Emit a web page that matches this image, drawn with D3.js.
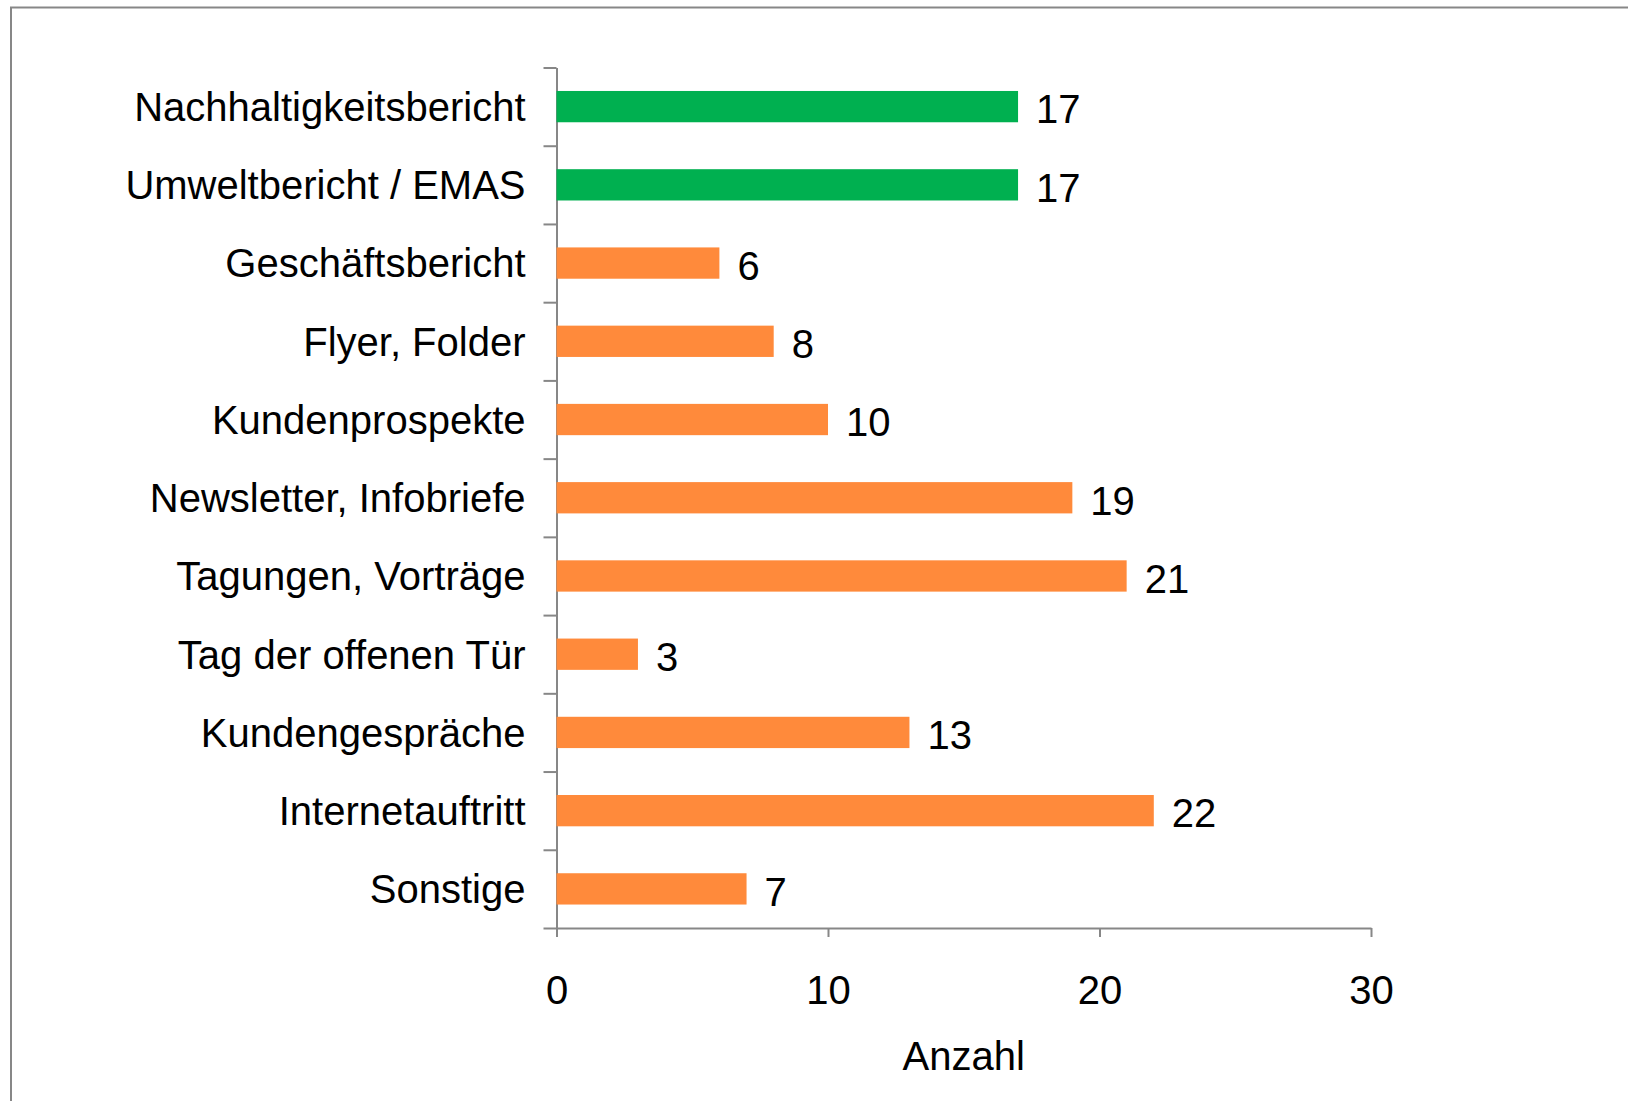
<!DOCTYPE html>
<html>
<head>
<meta charset="utf-8">
<script src="https://cdn.jsdelivr.net/npm/d3@7/dist/d3.min.js"></script>
<style>
  body { margin: 0; background: #fff; }
  text { font-family: "Liberation Sans", Arial, sans-serif; fill: #000; }
</style>
</head>
<body>
<div id="chart"></div>
<script>
let svgWidth = 1628;
let svgHeight = 1101;

// data
let categories = ["Nachhaltigkeitsbericht", "Umweltbericht / EMAS", "Geschäftsbericht", "Flyer, Folder",
    "Kundenprospekte", "Newsletter, Infobriefe", "Tagungen, Vorträge", "Tag der offenen Tür",
    "Kundengespräche", "Internetauftritt", "Sonstige"];
let values = [17, 17, 6, 8, 10, 19, 21, 3, 13, 22, 7];
let highlighted = [true, true, false, false, false, false, false, false, false, false, false];
let xTicks = [0, 10, 20, 30];
let xTitle = "Anzahl";

let margin = { top: 67.5, left: 556.5, right: 257, bottom: 173 };
let plotRight = svgWidth - margin.right;
let plotBottom = svgHeight - margin.bottom;

let axisColor = "#878787";
let green = "#00b050";
let orange = "#ff8a3b";

let svg = d3.select("#chart")
    .append("svg")
    .attr("width", svgWidth)
    .attr("height", svgHeight);

// outer frame
svg.append("rect")
    .attr("x", 11)
    .attr("y", 7.5)
    .attr("width", svgWidth + 20)
    .attr("height", svgHeight + 20)
    .attr("fill", "none")
    .attr("stroke", axisColor)
    .attr("stroke-width", 2);

let xScale = d3.scaleLinear()
    .domain([0, 30])
    .range([margin.left, plotRight]);

let yScale = d3.scaleBand()
    .domain(categories)
    .range([margin.top, plotBottom])
    .paddingInner(0.6)
    .paddingOuter(0.3);

// boundary ticks of the category axis
let yEdges = d3.scaleLinear()
    .domain([0, categories.length])
    .range([margin.top, plotBottom]);

let leftAxis = svg.append("g")
    .attr("transform", `translate(${margin.left},0)`)
    .call(d3.axisLeft(yEdges)
        .tickValues(d3.range(categories.length + 1))
        .tickSize(13)
        .tickSizeOuter(0)
        .tickFormat(""));

let bottomAxis = svg.append("g")
    .attr("transform", `translate(0,${plotBottom})`)
    .call(d3.axisBottom(xScale)
        .tickValues(xTicks)
        .tickSize(9)
        .tickSizeOuter(0)
        .tickPadding(39));

[leftAxis, bottomAxis].forEach(ax => {
    ax.selectAll("path, line")
        .attr("stroke", axisColor)
        .attr("stroke-width", 2);
});

bottomAxis.selectAll("text")
    .style("font-family", "'Liberation Sans', Arial, sans-serif")
    .style("font-size", "40px")
    .attr("fill", "#000");

// category labels
svg.append("g")
    .selectAll("text")
    .data(categories)
    .enter()
    .append("text")
    .attr("x", margin.left - 31)
    .attr("y", d => yScale(d) + yScale.bandwidth() / 2)
    .attr("dy", "0.36em")
    .attr("text-anchor", "end")
    .style("font-size", "40px")
    .text(d => d);

// bars
svg.append("g")
    .selectAll("rect")
    .data(values)
    .enter()
    .append("rect")
    .attr("x", xScale(0))
    .attr("y", (d, i) => yScale(categories[i]))
    .attr("width", d => xScale(d) - xScale(0))
    .attr("height", yScale.bandwidth())
    .attr("fill", (d, i) => highlighted[i] ? green : orange);

// value labels
svg.append("g")
    .selectAll("text")
    .data(values)
    .enter()
    .append("text")
    .attr("x", d => xScale(d) + 18)
    .attr("y", (d, i) => yScale(categories[i]) + yScale.bandwidth() / 2)
    .attr("dy", "0.42em")
    .style("font-size", "40px")
    .text(d => d);

// axis title
svg.append("text")
    .attr("x", (margin.left + plotRight) / 2)
    .attr("y", 1070)
    .attr("text-anchor", "middle")
    .style("font-size", "40px")
    .text(xTitle);
</script>
</body>
</html>
